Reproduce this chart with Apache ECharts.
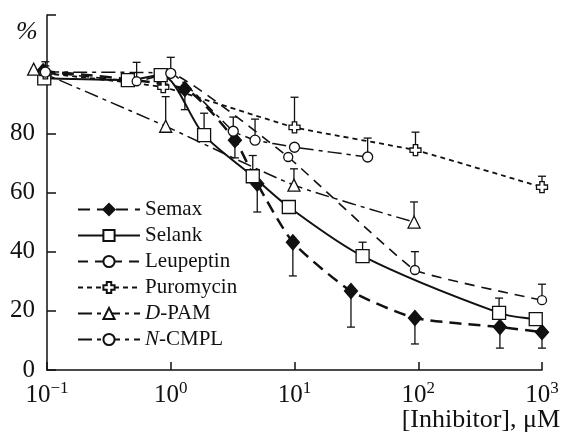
<!DOCTYPE html>
<html>
<head>
<meta charset="utf-8">
<script src="https://cdn.jsdelivr.net/npm/echarts@6/dist/echarts.min.js"></script>
<style>
  html, body { margin: 0; background: #fff; }
  #chart { width: 562px; height: 433px; }
</style>
</head>
<body>
<div id="chart"></div>
<script>
// concentrations (uM), activity (%), error bar length (+ up, - down, 0 none)
const semaxX = [0.093, 1.3, 3.3, 5.0, 9.7, 28.6, 94, 457, 1000];
const semaxY = [101, 95, 77.7, 63, 43.2, 26.7, 17.6, 14.5, 12.8];
const semaxErr = [0, -7, -6, -9.6, -11.4, -12.2, -8.8, -7.1, -5.4];

const selankX = [0.095, 0.45, 0.83, 1.86, 4.6, 9.0, 35.5, 450, 890];
const selankY = [98.6, 98, 99.7, 79.4, 65.5, 55.1, 38.5, 19.3, 17.2];
const selankErr = [0, 0, 0, 7.4, 7, 0, 4.7, 5, 0];

const leupX = [0.097, 0.53, 1.0, 8.9, 94, 1000];
const leupY = [100.7, 97.6, 100.3, 72, 33.8, 23.6];
const leupErr = [3.5, 6.4, 5.4, 0, 6.2, 5.4];

const puroX = [0.097, 0.87, 10, 95, 1000];
const puroY = [100.3, 95.6, 82, 74.3, 61.8];
const puroErr = [2.5, 0, 10.2, 6.1, 3.7];

const dpamX = [0.078, 0.91, 9.9, 92.5];
const dpamY = [101.7, 82.4, 62.5, 50];
const dpamErr = [0, 10, 5.5, 6.8];

const ncmplX = [0.097, 1.0, 3.2, 4.8, 10, 39];
const ncmplY = [100.7, 100.3, 80.7, 77.7, 75.3, 72];
const ncmplErr = [0, 0, 4.8, 7.1, 0, 6.4];

const yLabels = [0, 20, 40, 60, 80];
const seriesNames = ['Semax', 'Selank', 'Leupeptin', 'Puromycin', 'D-PAM', 'N-CMPL'];

const ink = '#111';
const serif = 'Liberation Serif';
const crossPath = 'path://M3,0H7V3H10V7H7V10H3V7H0V3H3Z';

const chart = echarts.init(document.getElementById('chart'));

function pts(xs, ys) {
  return xs.map((x, i) => [x, ys[i]]);
}

function lineSeries(name, xs, ys, symbol, size, fill, dash, width, smooth) {
  return {
    name: name,
    type: 'line',
    data: pts(xs, ys),
    symbol: symbol,
    symbolSize: size,
    smooth: smooth,
    clip: false,
    z: 3,
    lineStyle: { color: ink, width: width, type: dash },
    itemStyle: { color: fill, borderColor: ink, borderWidth: 1.3 },
    emphasis: { disabled: true }
  };
}

function errSeries(name, xs, ys, errs) {
  const data = [];
  xs.forEach((x, i) => {
    if (errs[i] !== 0) data.push([x, ys[i], ys[i] + errs[i]]);
  });
  return {
    name: name + ' err',
    type: 'custom',
    silent: true,
    z: 2,
    data: data,
    encode: { x: 0, y: [1, 2] },
    renderItem: (params, api) => {
      const a = api.coord([api.value(0), api.value(1)]);
      const b = api.coord([api.value(0), api.value(2)]);
      return {
        type: 'group',
        children: [
          { type: 'line', shape: { x1: a[0], y1: a[1], x2: b[0], y2: b[1] }, style: { stroke: ink, lineWidth: 1.3 } },
          { type: 'line', shape: { x1: b[0] - 4, y1: b[1], x2: b[0] + 4, y2: b[1] }, style: { stroke: ink, lineWidth: 1.3 } }
        ]
      };
    }
  };
}

const option = {
  backgroundColor: '#fff',
  animation: false,
  grid: { left: 47, right: 20, top: 15, bottom: 63 },
  xAxis: {
    type: 'log',
    logBase: 10,
    min: 0.1,
    max: 1000,
    axisLine: { lineStyle: { color: ink, width: 1.5 } },
    axisTick: { inside: true, length: 8, lineStyle: { color: ink, width: 1.5 } },
    minorTick: { show: false },
    splitLine: { show: false },
    axisLabel: {
      color: ink,
      fontFamily: serif,
      fontSize: 25,
      margin: 10,
      formatter: v => '10{s|' + String(Math.round(Math.log10(v))).replace('-', '\u2212') + '}',
      rich: { s: { fontFamily: serif, fontSize: 17, color: ink, padding: [0, 0, 13, 0] } }
    }
  },
  yAxis: {
    type: 'value',
    min: 0,
    max: 120,
    interval: 20,
    axisLine: { show: true, lineStyle: { color: ink, width: 1.5 } },
    axisTick: { show: true, inside: true, length: 9, lineStyle: { color: ink, width: 1.5 } },
    splitLine: { show: false },
    axisLabel: {
      color: ink,
      fontFamily: serif,
      fontSize: 25,
      margin: 12,
      formatter: v => (yLabels.indexOf(v) >= 0 ? String(v) : '')
    }
  },
  legend: {
    data: seriesNames,
    orient: 'vertical',
    left: 72,
    top: 194,
    itemWidth: 62,
    itemHeight: 14,
    itemGap: 5,
    selectedMode: false,
    textStyle: {
      color: ink,
      fontFamily: serif,
      fontSize: 21,
      lineHeight: 19,
      rich: { i: { fontFamily: serif, fontSize: 21, fontStyle: 'italic', color: ink, lineHeight: 19 } }
    },
    formatter: n => n === 'D-PAM' ? '{i|D}-PAM' : (n === 'N-CMPL' ? '{i|N}-CMPL' : n)
  },
  graphic: [
    { type: 'text', left: 16, top: 19, style: { text: '%', font: 'italic 26px "Liberation Serif"', fill: ink } },
    { type: 'text', right: 2, top: 407, style: { text: '[Inhibitor], \u03bcM', font: '26px "Liberation Serif"', fill: ink } }
  ],
  series: [
    errSeries('Semax', semaxX, semaxY, semaxErr),
    errSeries('Selank', selankX, selankY, selankErr),
    errSeries('Leupeptin', leupX, leupY, leupErr),
    errSeries('Puromycin', puroX, puroY, puroErr),
    errSeries('D-PAM', dpamX, dpamY, dpamErr),
    errSeries('N-CMPL', ncmplX, ncmplY, ncmplErr),
    lineSeries('Semax', semaxX, semaxY, 'diamond', [13, 15], ink, [12, 7], 2.5, 0.2),
    lineSeries('Selank', selankX, selankY, 'rect', 13, '#fff', 'solid', 2, 0.3),
    lineSeries('Leupeptin', leupX, leupY, 'circle', 9, '#fff', [10, 7], 1.6, 0.1),
    lineSeries('Puromycin', puroX, puroY, crossPath, 11, '#fff', [5, 4], 1.8, 0.1),
    lineSeries('D-PAM', dpamX, dpamY, 'triangle', 12, '#fff', [14, 5, 4, 5], 1.5, 0.2),
    lineSeries('N-CMPL', ncmplX, ncmplY, 'circle', 10, '#fff', [14, 5, 4, 5], 1.5, 0.1)
  ]
};

chart.setOption(option);
</script>
</body>
</html>
